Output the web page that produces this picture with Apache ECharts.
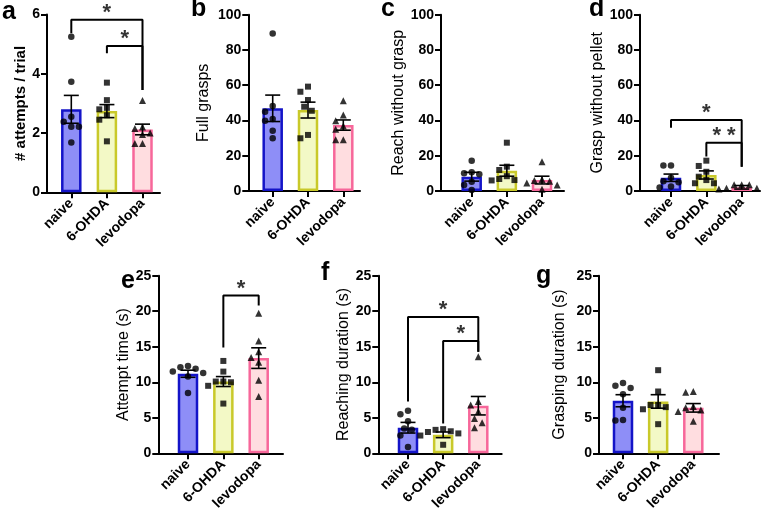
<!DOCTYPE html>
<html><head><meta charset="utf-8">
<script src="https://cdn.jsdelivr.net/npm/echarts@6/dist/echarts.min.js"></script>
<style>html,body{margin:0;padding:0;background:#fff}#c{width:768px;height:515px}</style>
</head><body><div id="c"></div>
<script>
// ---------- data ----------
const categories = ['naive', '6-OHDA', 'levodopa'];
const panelLetters = ['a', 'b', 'c', 'd', 'e', 'f', 'g'];
const yTitles = ['# attempts / trial', 'Full grasps', 'Reach without grasp', 'Grasp without pellet',
  'Attempt time (s)', 'Reaching duration (s)', 'Grasping duration (s)'];
const yMax = [6, 100, 100, 100, 25, 25, 25];
const yStep = [2, 20, 20, 20, 5, 5, 5];

// panel a: # attempts / trial
const aMeans = [2.80, 2.74, 2.12];
const aSem = [0.47, 0.22, 0.18];
const aNaive = [5.25, 3.73, 2.55, 2.38, 2.21, 2.21, 1.68];
const aOhda = [3.70, 3.11, 2.85, 2.80, 2.60, 2.45, 1.72];
const aLevo = [3.10, 2.20, 2.15, 2.00, 1.95, 1.65, 1.65];
// panel b: Full grasps
const bMeans = [46.9, 45.9, 37.4];
const bSem = [7.5, 4.5, 2.9];
const bNaive = [89.4, 48.2, 45.0, 40.8, 39.9, 34.2, 29.9];
const bOhda = [59.2, 56.3, 51.6, 47.8, 45.5, 31.8, 29.9];
const bLevo = [51.2, 43.1, 39.9, 36.9, 35.0, 29.0, 29.0];
// panel c: Reach without grasp
const cMeans = [8.1, 11.5, 6.2];
const cSem = [2.5, 3.1, 2.2];
const cNaive = [17.2, 10.6, 10.0, 9.5, 5.3, 3.4, 0.5];
const cOhda = [27.4, 13.8, 11.9, 8.4, 6.8, 6.2, 6.0];
const cLevo = [16.6, 6.5, 6.0, 5.5, 4.5, 3.4, 1.0];
// panel d: Grasp without pellet
const dMeans = [7.5, 9.1, 2.1];
const dSem = [2.1, 2.3, 1.0];
const dNaive = [14.5, 14.5, 7.5, 5.5, 5.0, 2.5, 2.0];
const dOhda = [17.2, 14.2, 10.9, 8.1, 6.2, 4.4, 4.4];
const dLevo = [3.5, 3.5, 3.5, 1.5, 1.5, 1.2, 1.2];
// panel e: Attempt time (s)
const eMeans = [11.2, 10.1, 13.4];
const eSem = [0.5, 0.7, 1.45];
const eNaive = [12.3, 12.1, 11.9, 11.5, 11.3, 10.8, 8.5];
const eOhda = [13.0, 11.5, 10.1, 10.1, 10.0, 9.5, 7.0];
const eLevo = [19.7, 15.8, 14.3, 13.5, 12.8, 10.3, 8.0];
// panel f: Reaching duration (s)
const fMeans = [3.6, 2.6, 6.7];
const fSem = [0.75, 0.4, 1.3];
const fNaive = [6.0, 5.5, 4.5, 3.5, 3.3, 2.5, 0.9];
const fOhda = [3.4, 3.3, 3.1, 3.0, 2.8, 2.5, 1.2];
const fLevo = [13.6, 7.3, 6.8, 5.9, 4.9, 4.3, 3.6];
// panel g: Grasping duration (s)
const gMeans = [7.4, 7.3, 6.4];
const gSem = [0.85, 0.95, 0.6];
const gNaive = [9.9, 9.5, 9.2, 8.3, 6.4, 4.7, 4.6];
const gOhda = [11.7, 8.7, 6.8, 6.8, 6.5, 6.2, 4.1];
const gLevo = [8.7, 8.6, 6.6, 6.4, 6.1, 5.9, 4.5];

// significance brackets: [fromGroup, toGroup, bracketY, fromEndY, toEndY, label]
const aSig = [[0, 2, 5.82, 5.37, 3.45, '*'], [1, 2, 4.94, 4.69, 3.45, '*']];
const dSig = [[0, 2, 40.3, 35.9, 13.8, '*'], [1, 2, 27.4, 19.5, 13.8, '* *']];
const eSig = [[1, 2, 22.2, 14.9, 20.8, '*']];
const fSig = [[0, 2, 19.2, 7.3, 14.3, '*'], [1, 2, 15.8, 4.2, 14.3, '*']];

const means = [aMeans, bMeans, cMeans, dMeans, eMeans, fMeans, gMeans];
const sems = [aSem, bSem, cSem, dSem, eSem, fSem, gSem];
const points = [[aNaive, aOhda, aLevo], [bNaive, bOhda, bLevo], [cNaive, cOhda, cLevo], [dNaive, dOhda, dLevo],
  [eNaive, eOhda, eLevo], [fNaive, fOhda, fLevo], [gNaive, gOhda, gLevo]];
const sigs = [aSig, [], [], dSig, eSig, fSig, []];

// ---------- layout / style ----------
const layout = [
  {left: 47, end: 160, first: 71.3, last: 142.5, top: 14.5, bottom: 192.3, gap: 16, bold: true},
  {left: 248.3, end: 360, first: 272.7, last: 343.3, top: 14.7, bottom: 191, gap: 37},
  {left: 441, end: 564, first: 471.7, last: 542, top: 14.7, bottom: 191, gap: 33},
  {left: 640, end: 760, first: 671, last: 741.7, top: 14.7, bottom: 191, gap: 31},
  {left: 158.3, end: 283, first: 188, last: 258.7, top: 275.7, bottom: 453.3, gap: 19},
  {left: 378.3, end: 501.7, first: 408, last: 478.3, top: 275.7, bottom: 453.3, gap: 24},
  {left: 599, end: 719, first: 623, last: 693.3, top: 275.7, bottom: 453.3, gap: 31}
];
const letterPos = [[2, 14], [191, 11], [381, 11], [589, 11], [121, 283], [321, 275], [536, 278]];
const fills = ['#8e8ef7', '#f3f9c6', '#ffdde0'];
const borders = ['#1414c8', '#c9c92a', '#f7679a'];
const symbols = ['circle', 'rect', 'triangle'];
const FONT = '"Liberation Sans", Arial, Helvetica, sans-serif';

function swarm(vals, k, pxY, pxX) {
  const d = 7.2, step = 3.8;
  const placed = [];
  const sorted = vals.slice().sort((p, q) => q - p);
  return sorted.map(v => {
    const y = v * pxY;
    let off = 0;
    for (let j = 0; j < 40; j++) {
      const cand = j === 0 ? 0 : (j % 2 ? -1 : 1) * Math.ceil(j / 2) * step;
      if (placed.every(p => Math.hypot(p[0] - cand, p[1] - y) >= d)) { off = cand; break; }
    }
    placed.push([off, y]);
    return [k + off / pxX, v];
  });
}

const grids = [], xAxes = [], yAxes = [], series = [], graphics = [];
layout.forEach((L, i) => {
  const sp = (L.last - L.first) / 2;
  const xmin = -(L.first - L.left) / sp;
  const xmax = 2 + (L.end - L.last) / sp;
  const pxY = (L.bottom - L.top) / yMax[i];
  grids.push({left: L.left, top: L.top, width: L.end - L.left, height: L.bottom - L.top});
  xAxes.push({
    type: 'value', gridIndex: i, min: xmin, max: xmax,
    splitLine: {show: false},
    axisLine: {show: true, onZero: false, lineStyle: {color: '#000', width: 2}},
    axisTick: {show: true, customValues: [0, 1, 2], length: 6, lineStyle: {color: '#000', width: 2}},
    axisLabel: {customValues: [0, 1, 2], formatter: v => categories[Math.round(v)] || '', rotate: 45,
      color: '#000', fontWeight: 'bold', fontSize: 14, fontFamily: FONT, margin: 9}
  });
  yAxes.push({
    type: 'value', gridIndex: i, min: 0, max: yMax[i], interval: yStep[i],
    splitLine: {show: false},
    axisLine: {show: true, onZero: false, lineStyle: {color: '#000', width: 2}},
    axisTick: {show: true, length: 6, lineStyle: {color: '#000', width: 2}},
    axisLabel: {color: '#000', fontWeight: 'bold', fontSize: 14, fontFamily: FONT, margin: 7},
    name: yTitles[i], nameLocation: 'middle', nameGap: L.gap,
    nameTextStyle: {color: '#000', fontSize: L.bold ? 15 : 16, fontWeight: L.bold ? 'bold' : 'normal', fontFamily: FONT}
  });
  series.push({
    type: 'bar', xAxisIndex: i, yAxisIndex: i, barWidth: 20.5, z: 2,
    data: means[i].map((m, k) => ({value: [k, m], itemStyle: {color: fills[k], borderColor: borders[k], borderWidth: 2.5}}))
  });
  points[i].forEach((vals, k) => {
    series.push({
      type: 'scatter', xAxisIndex: i, yAxisIndex: i, symbol: symbols[k],
      symbolSize: k === 2 ? 7 : (k === 1 ? 6 : 6.5), z: 4,
      itemStyle: {color: '#000'}, data: swarm(vals, k, pxY, sp)
    });
  });
  series.push({
    type: 'custom', xAxisIndex: i, yAxisIndex: i, z: 5,
    data: means[i].map((m, k) => [k, m, sems[i][k]]),
    renderItem: (params, api) => {
      const x = api.value(0), m = api.value(1), s = api.value(2);
      const t = api.coord([x, m + s]), b = api.coord([x, m - s]);
      const cw = 7.5, st = {stroke: '#000', lineWidth: 1.6};
      return {type: 'group', children: [
        {type: 'line', shape: {x1: t[0], y1: t[1], x2: b[0], y2: b[1]}, style: st},
        {type: 'line', shape: {x1: t[0] - cw, y1: t[1], x2: t[0] + cw, y2: t[1]}, style: st},
        {type: 'line', shape: {x1: b[0] - cw, y1: b[1], x2: b[0] + cw, y2: b[1]}, style: st}
      ]};
    }
  });
  sigs[i].forEach(sg => {
    series.push({
      type: 'line', xAxisIndex: i, yAxisIndex: i, symbol: 'none', z: 6, silent: true,
      lineStyle: {color: '#000', width: 2},
      data: [[sg[0], sg[3]], [sg[0], sg[2]], [sg[1], sg[2]], [sg[1], sg[4]]]
    });
    series.push({
      type: 'scatter', xAxisIndex: i, yAxisIndex: i, symbolSize: 0, z: 6, silent: true,
      data: [[(sg[0] + sg[1]) / 2, sg[2]]],
      label: {show: true, position: 'top', distance: -4, formatter: sg[5], color: '#000',
        fontSize: 22, fontWeight: 'bold', fontFamily: FONT}
    });
  });
  graphics.push({type: 'text', left: letterPos[i][0], top: letterPos[i][1] - 14,
    style: {text: panelLetters[i], fill: '#000', font: 'bold 25px ' + FONT}});
});

const chart = echarts.init(document.getElementById('c'), null, {renderer: 'canvas'});
chart.setOption({
  animation: false,
  backgroundColor: '#fff',
  grid: grids, xAxis: xAxes, yAxis: yAxes, series: series, graphic: graphics
});
</script></body></html>
